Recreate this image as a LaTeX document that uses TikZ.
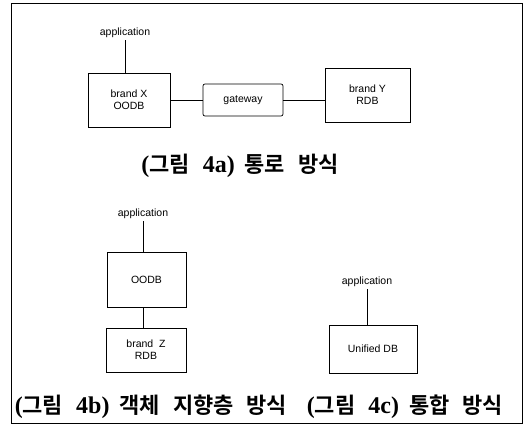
\documentclass[tikz,border=0pt]{standalone}
\usepackage{fontspec}
\setmainfont{Liberation Serif}
\setsansfont{Liberation Sans}
\newfontfamily\kr{Noto Sans CJK KR}[BoldFont={Noto Sans CJK KR Bold}]
\usepackage{tikz}
\usetikzlibrary{positioning}
\tikzset{
    dbbox/.style={
    rectangle,draw=black,align=center,font=\sffamily\fontsize{10.5}{12}\selectfont
    },
    gatebox/.style={
    rectangle,rounded corners=2pt,draw=black,font=\sffamily\fontsize{10.5}{12}\selectfont
    },
    applabel/.style={
    inner sep=2pt,font=\sffamily\fontsize{10.5}{12}\selectfont
    },
    figcaption/.style={
    inner sep=0pt,font=\fontsize{24}{26}\selectfont
    },
}
\newcommand{\kw}[1]{{\fontsize{22}{24}\selectfont\kr\bfseries #1}}
\newcommand{\gap}{\hspace{13pt}}
\newcommand{\figcap}[2]{\textbf{(}\kw{그림}\gap\textbf{#1)}\hspace{10pt}#2}

\begin{document}
\begin{tikzpicture}[x=1pt, y=-1pt, line width=0.7pt]
   \useasboundingbox (0,0) rectangle (525,431);
   \draw (11,3) rectangle (522,423);

   % (4a) gateway
   \node[applabel] (app1) at (125,33) {application};
   \node[dbbox,minimum width=82pt,minimum height=54pt] (bx) at (129,100) {brand X\\OODB};
   \node[gatebox,minimum width=80pt,minimum height=32pt] (gw) at (243,100) {gateway};
   \node[dbbox,minimum width=85pt,minimum height=54pt] (by) at (367.5,95) {brand Y\\RDB};
   \node[figcaption] (cap1) at (240,166) {\figcap{4a}{\kw{통로}\gap\kw{방식}}};

   \draw (app1.south) -- (app1.south |- bx.north);
   \draw (bx.east) -- (gw.west);
   \draw (gw.east) -- (gw.east -| by.west);

   % (4b) object layer
   \node[applabel] (app2) at (143,214) {application};
   \node[dbbox,minimum width=79pt,minimum height=55pt] (oodb) at (146.5,279.5) {OODB};
   \node[dbbox,minimum width=80pt,minimum height=44pt] (bz) at (146,350) {brand\ \ Z\\RDB};
   \node[figcaption] (cap2) at (151,407) {\figcap{4b}{\kw{객체}\gap\kw{지향층}\gap\kw{방식}}};

   \draw (app2.south) -- (app2.south |- oodb.north);
   \draw (app2.south |- oodb.south) -- (app2.south |- bz.north);

   % (4c) integrated
   \node[applabel] (app3) at (367,282) {application};
   \node[dbbox,minimum width=88pt,minimum height=48pt] (udb) at (373,349) {Unified DB};
   \node[figcaption] (cap3) at (405,407) {\figcap{4c}{\kw{통합}\gap\kw{방식}}};

   \draw (app3.south) -- (app3.south |- udb.north);
\end{tikzpicture}
\end{document}
